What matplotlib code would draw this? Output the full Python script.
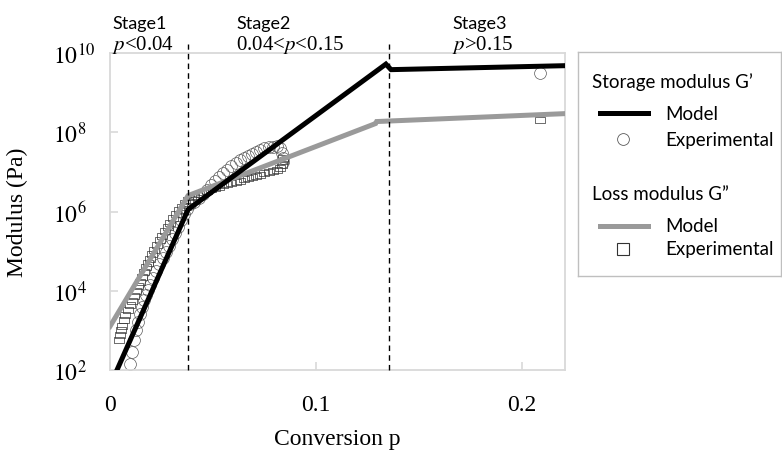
import numpy as np
import matplotlib
matplotlib.use("Agg")
import matplotlib.pyplot as plt
from matplotlib.ticker import FixedLocator, FixedFormatter

plt.rcParams['mathtext.fontset'] = 'stix'

# model lines (conversion p, log10 modulus)
model_p_storage = [0.0034, 0.0379, 0.134, 0.1365, 0.221]
model_logG_storage = [2.0, 6.05, 9.72, 9.58, 9.68]
model_p_loss = [0.0, 0.0379, 0.129, 0.1295, 0.221]
model_logG_loss = [3.1, 6.4, 8.22, 8.27, 8.47]

# experimental storage modulus G'
exp_p_storage = [0.0095, 0.0105, 0.0115, 0.0125, 0.0135, 0.0145, 0.0155, 0.0165,
                 0.0175, 0.0185, 0.0195, 0.0210, 0.0225, 0.0240, 0.0255, 0.0270,
                 0.0285, 0.0300, 0.0315, 0.0330, 0.0345, 0.0360, 0.0375, 0.0390,
                 0.0410, 0.0430, 0.0450, 0.0470, 0.0490, 0.0510, 0.0530, 0.0550,
                 0.0570, 0.0590, 0.0610, 0.0630, 0.0650, 0.0670, 0.0690, 0.0710,
                 0.0730, 0.0750, 0.0770, 0.0790, 0.0810, 0.0825, 0.0835, 0.0840,
                 0.0838, 0.2087]
exp_logG_storage = [2.15, 2.45, 2.75, 3.00, 3.22, 3.42, 3.60, 3.76,
                    3.90, 4.03, 4.15, 4.32, 4.50, 4.67, 4.83, 4.98,
                    5.14, 5.30, 5.46, 5.62, 5.78, 5.93, 6.07, 6.20,
                    6.25, 6.35, 6.45, 6.55, 6.66, 6.76, 6.86, 6.96,
                    7.05, 7.14, 7.22, 7.29, 7.35, 7.41, 7.46, 7.51,
                    7.55, 7.59, 7.62, 7.64, 7.65, 7.60, 7.48, 7.35,
                    7.25, 9.50]

# experimental loss modulus G''
exp_p_loss = [0.0045, 0.0048, 0.0052, 0.0058, 0.0066, 0.0075, 0.0085, 0.0095,
              0.0105, 0.0115, 0.0125, 0.0135, 0.0145, 0.0155, 0.0165, 0.0175,
              0.0185, 0.0195, 0.0205, 0.0215, 0.0228, 0.0241, 0.0254, 0.0267,
              0.0280, 0.0293, 0.0306, 0.0320, 0.0335, 0.0350, 0.0365, 0.0380,
              0.0395, 0.0410, 0.0430, 0.0450, 0.0470, 0.0490, 0.0510, 0.0530,
              0.0550, 0.0570, 0.0590, 0.0610, 0.0630, 0.0650, 0.0670, 0.0690,
              0.0710, 0.0730, 0.0750, 0.0770, 0.0790, 0.0810, 0.0825, 0.0835,
              0.0840, 0.0838, 0.2087]
exp_logG_loss = [2.75, 2.88, 3.00, 3.12, 3.25, 3.38, 3.51, 3.63,
                 3.75, 3.87, 3.99, 4.11, 4.23, 4.35, 4.47, 4.59,
                 4.70, 4.81, 4.92, 5.02, 5.15, 5.27, 5.39, 5.50,
                 5.61, 5.72, 5.83, 5.93, 6.03, 6.12, 6.21, 6.29,
                 6.36, 6.40, 6.44, 6.48, 6.52, 6.56, 6.59, 6.63,
                 6.66, 6.69, 6.72, 6.75, 6.78, 6.81, 6.84, 6.87,
                 6.90, 6.93, 6.96, 6.99, 7.02, 7.05, 7.10, 7.18,
                 7.27, 7.35, 8.31]

stage_bounds = [0.0379, 0.1354]
stage_titles = ["Stage1", "Stage2", "Stage3"]
stage_ranges = [r"$p$<0.04", r"0.04<$p$<0.15", r"$p$>0.15"]

yticks = [1e2, 1e4, 1e6, 1e8, 1e10]
ytick_labels = [r"$10^{2}$", r"$10^{4}$", r"$10^{6}$", r"$10^{8}$", r"$10^{10}$"]
xticks = [0.0, 0.1, 0.2]
xtick_labels = ["0", "0.1", "0.2"]

W, H = 782, 452
fig = plt.figure(figsize=(W / 100, H / 100), dpi=100)
ax = fig.add_axes([110 / W, (H - 371) / H, 455 / W, 317 / H])

serif = "Liberation Serif"
sans = "Lato"
frame = "#d9d9d9"
gray_line = "#9a9a9a"
mk_edge = "#5a5a5a"

rect = [(-1, -0.55), (1, -0.55), (1, 0.55), (-1, 0.55), (-1, -0.55)]

ax.plot(exp_p_storage, np.power(10.0, exp_logG_storage), linestyle="none",
        marker="o", markersize=8.5, markerfacecolor="none",
        markeredgecolor=mk_edge, markeredgewidth=0.5, zorder=2)
ax.plot(exp_p_loss, np.power(10.0, exp_logG_loss), linestyle="none",
        marker=rect, markersize=7.5, markerfacecolor="none",
        markeredgecolor="#333333", markeredgewidth=0.5, zorder=2)
ax.plot(model_p_loss, np.power(10.0, model_logG_loss), color=gray_line,
        lw=3.6, solid_joinstyle="miter", zorder=3)
ax.plot(model_p_storage, np.power(10.0, model_logG_storage), color="black",
        lw=3.6, solid_joinstyle="miter", zorder=4)

for b in stage_bounds:
    ax.axvline(b, ymin=0, ymax=1.028, color="black", lw=1.0,
               dashes=(4, 3), clip_on=False, zorder=5)

ax.set_yscale("log")
ax.set_xlim(0, 0.221)
ax.set_ylim(1e2, 1e10)
ax.yaxis.set_major_locator(FixedLocator(yticks))
ax.yaxis.set_major_formatter(FixedFormatter(ytick_labels))
ax.yaxis.set_minor_locator(FixedLocator([]))
ax.set_xticks(xticks)
ax.set_xticklabels(xtick_labels)

for s in ax.spines.values():
    s.set_color(frame)
    s.set_linewidth(1.3)
ax.tick_params(axis="both", direction="in", length=6, width=1.2, color=frame,
               labelsize=17)
ax.tick_params(axis="x", pad=17)
ax.tick_params(axis="y", pad=41)
for lab in ax.get_xticklabels() + ax.get_yticklabels():
    lab.set_fontfamily(serif)
for lab in ax.get_yticklabels():
    lab.set_horizontalalignment("left")

ax.set_xlabel("Conversion p", fontfamily=serif, fontsize=17, labelpad=10)
ax.set_ylabel("Modulus (Pa)", fontfamily=serif, fontsize=17)
ax.yaxis.set_label_coords((28 - 110) / 455, 0.5)

# stage annotations
stage_x = [112, 236, 452]
for x, t, r in zip(stage_x, stage_titles, stage_ranges):
    fig.text(x / W, 1 - 29 / H, t, fontfamily=sans, fontsize=13,
             ha="left", va="baseline")
    fig.text(x / W, 1 - 50 / H, r, fontfamily=serif, fontsize=15,
             ha="left", va="baseline")

# legend box drawn in pixel coordinates
lg = fig.add_axes([578 / W, (H - 277) / H, 203 / W, 224 / H])
lg.set_xlim(578, 781)
lg.set_ylim(277, 53)
lg.set_xticks([])
lg.set_yticks([])
for s in lg.spines.values():
    s.set_color("#bfbfbf")
    s.set_linewidth(1.0)

fs = 13.5
lg.text(592, 82, "Storage modulus G’", fontfamily=sans, fontsize=fs, va="center")
lg.plot([600, 648], [114, 114], color="black", lw=3.6)
lg.text(665, 114, "Model", fontfamily=sans, fontsize=fs, va="center")
lg.plot([623], [140], marker="o", markersize=8.5, markerfacecolor="none",
        markeredgecolor=mk_edge, markeredgewidth=0.6)
lg.text(665, 140, "Experimental", fontfamily=sans, fontsize=fs, va="center")
lg.text(592, 195, "Loss modulus G”", fontfamily=sans, fontsize=fs, va="center")
lg.plot([600, 648], [227, 227], color=gray_line, lw=3.6)
lg.text(665, 227, "Model", fontfamily=sans, fontsize=fs, va="center")
lg.plot([623], [250], marker="s", markersize=8, markerfacecolor="none",
        markeredgecolor="#333333", markeredgewidth=0.8)
lg.text(665, 250, "Experimental", fontfamily=sans, fontsize=fs, va="center")

fig.savefig("out.png", dpi=100)
